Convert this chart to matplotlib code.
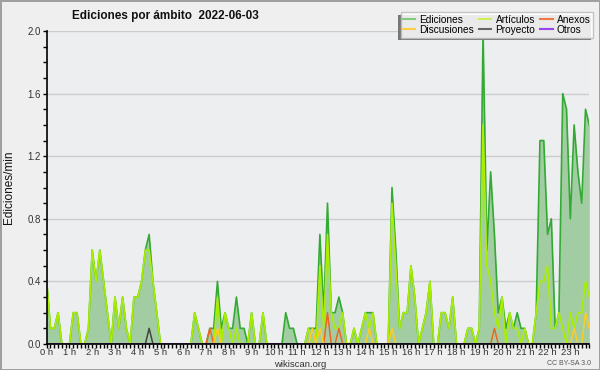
import numpy as np
import matplotlib
matplotlib.use("Agg")
import matplotlib.pyplot as plt
from matplotlib.lines import Line2D
from matplotlib.patches import Rectangle
from matplotlib.ticker import MultipleLocator, FormatStrFormatter

plt.rcParams['font.family'] = ['Liberation Sans', 'DejaVu Sans']

# ediciones por minuto, tramos de 10 minutos (144 por día)
ediciones = [
    0.4, 0.1, 0.1, 0.2, 0, 0, 0, 0.2, 0.2, 0,
    0, 0.1, 0.6, 0.4, 0.6, 0.4, 0.2, 0, 0.3, 0.1,
    0.3, 0.1, 0, 0.3, 0.3, 0.4, 0.6, 0.7, 0.4, 0.2,
    0, 0, 0, 0, 0, 0, 0, 0, 0, 0.2,
    0.1, 0, 0, 0.1, 0.1, 0.4, 0.1, 0.2, 0.1, 0.1,
    0.3, 0.1, 0.1, 0, 0.2, 0, 0, 0.2, 0, 0,
    0, 0, 0, 0.2, 0.1, 0.1, 0, 0, 0, 0.1,
    0.1, 0.1, 0.7, 0.2, 0.9, 0.2, 0.2, 0.3, 0.2, 0,
    0, 0.1, 0, 0.1, 0.2, 0.2, 0.2, 0, 0, 0,
    0, 1.0, 0.6, 0.1, 0.2, 0.2, 0.5, 0.3, 0, 0.1,
    0.2, 0.4, 0, 0, 0.2, 0.2, 0.1, 0.3, 0, 0,
    0, 0.1, 0.1, 0, 0.1, 2.0, 0.6, 1.1, 0.7, 0.2,
    0.3, 0.1, 0.2, 0.1, 0.2, 0.1, 0.1, 0, 0, 0.2,
    1.3, 1.3, 0.7, 0.8, 0.1, 0.2, 1.6, 1.5, 0.8, 1.4,
    1.1, 0.9, 1.5, 1.4]
articulos = [
    0.4, 0.1, 0.1, 0.2, 0, 0, 0, 0.2, 0.2, 0,
    0, 0.1, 0.6, 0.4, 0.6, 0.4, 0.2, 0, 0.3, 0.1,
    0.3, 0.1, 0, 0.3, 0.3, 0.4, 0.6, 0.6, 0.4, 0.2,
    0, 0, 0, 0, 0, 0, 0, 0, 0, 0.2,
    0.1, 0, 0, 0, 0, 0.3, 0, 0.2, 0.1, 0,
    0.1, 0, 0, 0, 0.2, 0, 0, 0.2, 0, 0,
    0, 0, 0, 0, 0, 0, 0, 0, 0, 0.1,
    0, 0, 0.5, 0.1, 0.7, 0.2, 0.1, 0.1, 0.2, 0,
    0, 0.1, 0, 0.1, 0.2, 0.1, 0.2, 0, 0, 0,
    0, 0.9, 0.5, 0.1, 0.2, 0.2, 0.5, 0.3, 0, 0.1,
    0.2, 0.4, 0, 0, 0.2, 0.2, 0.1, 0.3, 0, 0,
    0, 0.1, 0.1, 0, 0.1, 1.4, 0.5, 0.4, 0.2, 0.1,
    0.3, 0, 0.2, 0.1, 0.1, 0, 0.1, 0, 0, 0.2,
    0.4, 0.4, 0.5, 0.1, 0.1, 0.2, 0.1, 0, 0.2, 0.1,
    0.2, 0.2, 0.4, 0.3]
# series casi vacías: {tramo: valor}
anexos = {43: 0.1, 74: 0.2, 77: 0.1, 118: 0.1}
discusiones = {45: 0.1, 70: 0.1, 72: 0.1, 85: 0.1, 91: 0.1, 139: 0.1, 142: 0.2, 143: 0.1}
proyecto = {27: 0.1}
otros = {}

horas = [f"{h} h" for h in range(24)]
n = len(ediciones)
x = np.arange(n)


def completa(d):
    s = np.zeros(n)
    for k, v in d.items():
        s[k] = v
    return s


W, H = 600, 370
fig = plt.figure(figsize=(W / 100, H / 100), dpi=100)
fig.patch.set_facecolor('#efefef')
fig.patch.set_edgecolor('#a0a0a0')
fig.patch.set_linewidth(2)

ax = fig.add_axes([46.7 / W, 26 / H, 542.6 / W, 313 / H])
ax.set_facecolor('#eceef0')

ax.fill_between(x, ediciones, color='#a2cda2', lw=0)
ax.plot(x, ediciones, color='#33aa33', lw=1.2)
ax.plot(x, articulos, color='#aaee00', lw=1.2)
ax.plot(x, completa(anexos), color='#ee6622', lw=1.1)
ax.plot(x, completa(discusiones), color='#ffcc22', lw=1.1)
ax.plot(x, completa(proyecto), color='#444444', lw=1.1)
ax.plot(x, completa(otros), color='#9944ee', lw=1.1)

ax.set_xlim(0, n - 1)
ax.set_ylim(0, 2.0)
ax.yaxis.set_major_locator(MultipleLocator(0.4))
ax.yaxis.set_minor_locator(MultipleLocator(0.1))
ax.yaxis.set_major_formatter(FormatStrFormatter('%.1f'))
ax.set_xticks(np.arange(0, n, 6))
ax.set_xticklabels(horas)
ax.xaxis.set_minor_locator(MultipleLocator(1))
ax.grid(axis='y', color='#cccccc', lw=1)
ax.set_axisbelow(True)
for s in ['top', 'right']:
    ax.spines[s].set_visible(False)
for s in ['left', 'bottom']:
    ax.spines[s].set_linewidth(1.2)
ax.tick_params(which='both', direction='out', color='black', labelsize=7, labelcolor='#333333', pad=1)
ax.tick_params(axis='x', labelsize=6.8, pad=0)
ax.tick_params(which='major', length=3, width=1)
ax.tick_params(which='minor', length=3, width=1)
ax.set_ylabel('Ediciones/min', fontsize=8.5, labelpad=9, color='#111111')

fig.text(0.275, 0.957, 'Ediciones por ámbito  2022-06-03', ha='center', va='center',
         fontsize=8.5, fontweight='bold', color='#111111')
fig.text(0.5, 0.016, 'wikiscan.org', ha='center', va='center', fontsize=6.8, color='#333333')
fig.text(0.985, 0.018, 'CC BY-SA 3.0', ha='right', va='center', fontsize=5, color='#555555')

handles = [Line2D([], [], color='#7fcc7f'), Line2D([], [], color='#ffcc44'),
           Line2D([], [], color='#ccee55'), Line2D([], [], color='#666666'),
           Line2D([], [], color='#ee7744'), Line2D([], [], color='#9944ee')]
labels = ['Ediciones', 'Discusiones', 'Artículos', 'Proyecto', 'Anexos', 'Otros']
leg = fig.legend(handles, labels, ncol=3, loc='upper right', bbox_to_anchor=(593 / W, 1 - 12 / H),
                 fontsize=7.3, frameon=True, fancybox=False, edgecolor='#bbbbbb', facecolor='white',
                 framealpha=0.85, handlelength=1.2, handletextpad=0.4, columnspacing=0.5,
                 labelspacing=0.05, borderpad=0.25, borderaxespad=0)
leg.set_zorder(5)

fig.canvas.draw()
bb = leg.get_window_extent()
fig.add_artist(Rectangle((bb.x0 - 2.5, bb.y0 - 2.5), bb.width, bb.height, transform=None,
                         facecolor='#777777', edgecolor='none', zorder=4.9))

fig.savefig('out.png', dpi=100, facecolor=fig.get_facecolor(), edgecolor=fig.get_edgecolor())
